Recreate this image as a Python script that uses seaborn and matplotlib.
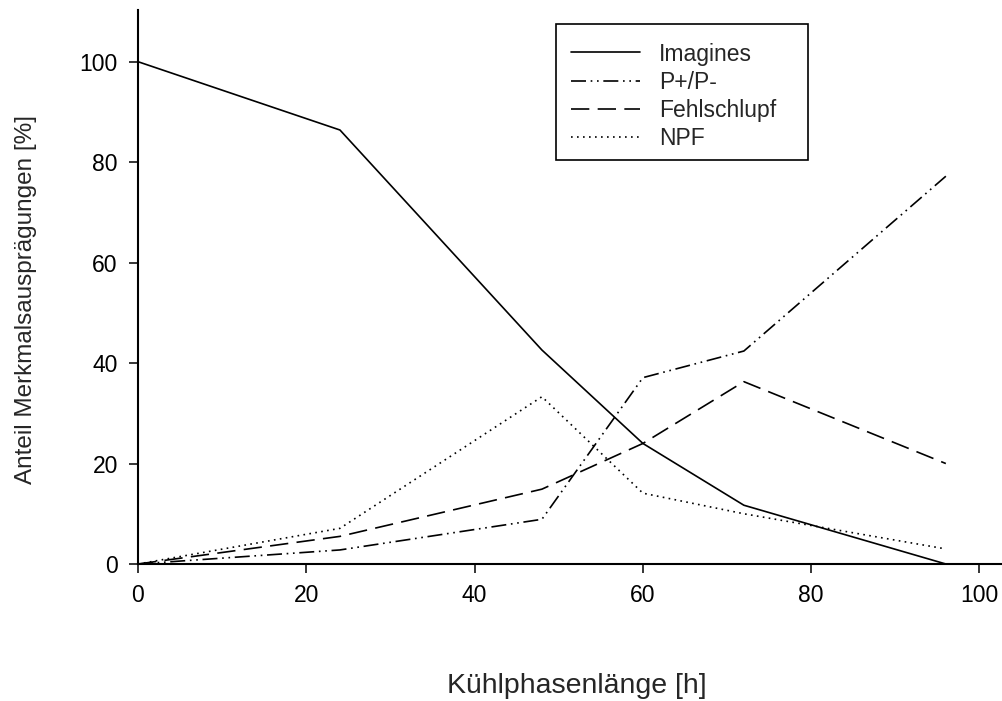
import numpy as np
import pandas as pd
import matplotlib
matplotlib.use("Agg")
import matplotlib.pyplot as plt
from matplotlib.patches import Rectangle
import seaborn as sns

# ---- data ----
hours = [0, 24, 48, 60, 72, 96]
imagines = [100, 86.4, 42.6, 24.0, 11.7, 0]
p_plus_minus = [0, 2.8, 8.9, 37.1, 42.4, 77.2]
fehlschlupf = [0, 5.5, 14.9, 24.0, 36.3, 20.0]
npf = [0, 7.1, 33.3, 14.1, 10.0, 3.0]
series_names = ["Imagines", "P+/P-", "Fehlschlupf", "NPF"]
x_ticks = [0, 20, 40, 60, 80, 100]
y_ticks = [0, 20, 40, 60, 80, 100]
x_label = "Kühlphasenlänge [h]"
y_label = "Anteil Merkmalsausprägungen [%]"

df = pd.DataFrame({
    "h": hours * 4,
    "val": imagines + p_plus_minus + fehlschlupf + npf,
    "Serie": [n for n in series_names for _ in hours],
})

sns.set_style("ticks")
plt.rcParams["font.family"] = ["Liberation Sans", "DejaVu Sans"]

fig = plt.figure(figsize=(10.02, 7.01), dpi=100)
W, H = 1002, 701
x0, x1, yb, yt = 138, 1002, 564, 10
ax = fig.add_axes([x0 / W, 1 - yb / H, (x1 - x0) / W, (yb - yt) / H])

dashes = {
    "Imagines": "",
    "P+/P-": (9, 2.8, 1, 2.8, 1, 2.8),
    "Fehlschlupf": (11, 5),
    "NPF": (1, 2.6),
}
sns.lineplot(data=df, x="h", y="val", style="Serie", style_order=series_names,
             dashes=dashes, color="black", linewidth=1.2, ax=ax, legend=False)

px_per_x = (979.5 - 138) / 100.0
ax.set_xlim(0, (x1 - x0) / px_per_x)
px_per_y = (564 - 61.7) / 100.0
ax.set_ylim(0, (yb - yt) / px_per_y)
ax.set_xticks(x_ticks)
ax.set_yticks(y_ticks)
ax.tick_params(axis="both", direction="out", length=6.5, width=1.1,
               labelsize=16.5, colors="black")
ax.tick_params(axis="x", pad=8)
ax.tick_params(axis="y", pad=8)
for s in ["top", "right"]:
    ax.spines[s].set_visible(False)
for s in ["left", "bottom"]:
    ax.spines[s].set_linewidth(1.5)
    ax.spines[s].set_color("black")

ax.set_xlabel(x_label, fontsize=20.5)
ax.set_ylabel(y_label, fontsize=17.5)
ax.xaxis.set_label_coords(0.508, -0.196)
ax.yaxis.set_label_coords(-0.117, 0.477)

handles = ax.get_lines()[:4]
leg = ax.legend(handles, series_names, loc="upper left",
                bbox_to_anchor=(571 / W, 1 - 42.5 / H), bbox_transform=fig.transFigure,
                fontsize=16.5, frameon=False, handlelength=3.0,
                handletextpad=0.85, labelspacing=0.23, borderpad=0.0,
                borderaxespad=0)
# legend box
fig.patches.append(Rectangle((556 / W, 1 - 160 / H), (808 - 556) / W, (160 - 24) / H,
                             transform=fig.transFigure, fill=False,
                             edgecolor="black", linewidth=1.2, zorder=5))

fig.savefig("out.png", dpi=100)
